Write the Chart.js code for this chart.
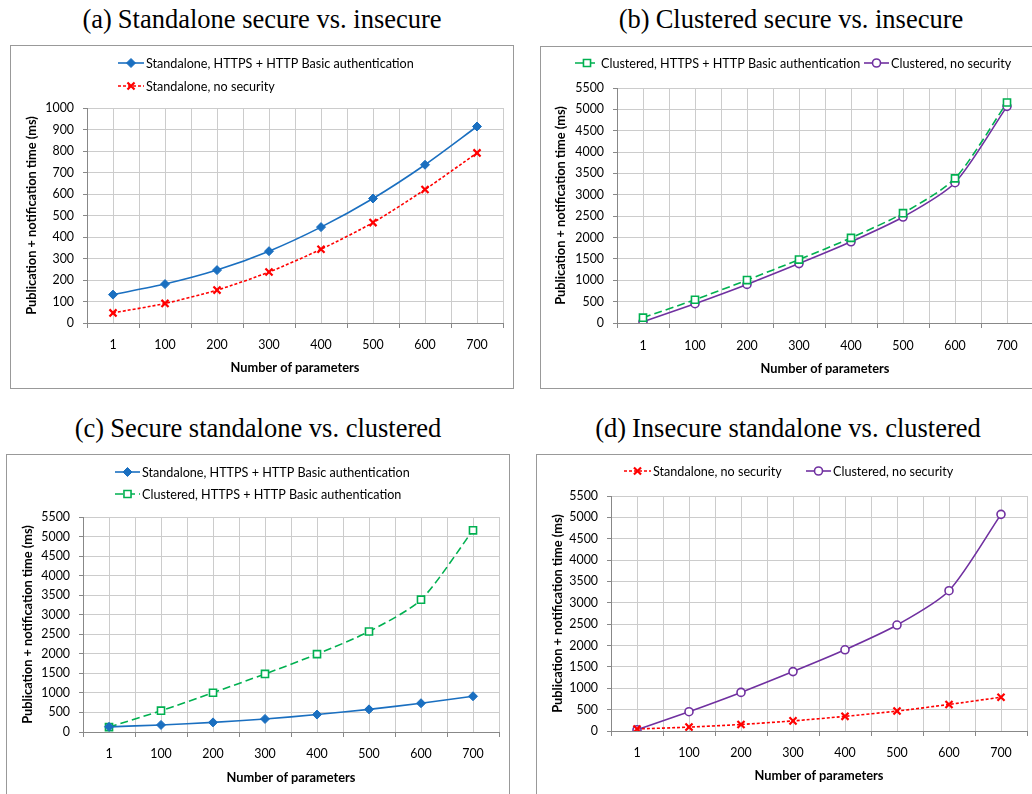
<!DOCTYPE html>
<html>
<head>
<meta charset="utf-8">
<script src="https://cdn.jsdelivr.net/npm/chart.js@4.4.0/dist/chart.umd.min.js"></script>
<style>
    body { margin: 0; width: 1032px; height: 794px; overflow: hidden; background: #fff; position: relative; }
    .cap { position: absolute; width: 520px; text-align: center; font-family: "Liberation Serif", "Times New Roman", serif; font-size: 26.5px; line-height: 30px; color: #000; white-space: nowrap; }
    .cap span { margin-right: 6px; }
    .box { position: absolute; border: 1px solid #999; box-sizing: border-box; }
    canvas { position: absolute; }
</style>
</head>
<body>
<div class="cap" style="left:2px; top:4px;"><span>(a)</span>Standalone secure vs. insecure</div>
<div class="cap" style="left:531px; top:4px;"><span>(b)</span>Clustered secure vs. insecure</div>
<div class="cap" style="left:-2px; top:413px;"><span>(c)</span>Secure standalone vs. clustered</div>
<div class="cap" style="left:528px; top:413px;"><span>(d)</span>Insecure standalone vs. clustered</div>

<div class="box" style="left:10px; top:45px; width:504px; height:344px;"></div>
<canvas id="chartA" width="504" height="344" style="left:10px; top:45px;"></canvas>
<div class="box" style="left:540px; top:46px; width:510px; height:343px;"></div>
<canvas id="chartB" width="510" height="343" style="left:540px; top:46px;"></canvas>
<div class="box" style="left:6px; top:454px; width:504px; height:346px;"></div>
<canvas id="chartC" width="504" height="346" style="left:6px; top:454px;"></canvas>
<div class="box" style="left:536px; top:454px; width:514px; height:346px;"></div>
<canvas id="chartD" width="514" height="346" style="left:536px; top:454px;"></canvas>

<script>
// du lieu doc tu hinh
var categories = ['1', '100', '200', '300', '400', '500', '600', '700'];
var standaloneSecure = [132, 181, 246, 334, 446, 579, 736, 914];
var standaloneInsecure = [47, 91, 153, 237, 343, 467, 621, 791];
var clusteredSecure = [125, 545, 1005, 1485, 1992, 2570, 3385, 5160];
var clusteredInsecure = [28, 452, 903, 1390, 1900, 2480, 3283, 5070];

var labelStandaloneSecure = 'Standalone, HTTPS + HTTP Basic authentication';
var labelStandaloneInsecure = 'Standalone, no security';
var labelClusteredSecure = 'Clustered, HTTPS + HTTP Basic authentication';
var labelClusteredInsecure = 'Clustered, no security';

var FONT = 'Lato';
var AXIS = '#888888';
var GRID = '#cccccc';

var styles = {
    standaloneSecure: { borderColor: '#1a6fc0', pointStyle: 'rectRot', pointRadius: 4.5, pointBackgroundColor: '#1a6fc0', pointBorderColor: '#1a6fc0', pointBorderWidth: 1, borderDash: [] },
    standaloneInsecure: { borderColor: '#ff0000', pointStyle: 'crossRot', pointRadius: 5, pointBackgroundColor: '#ff0000', pointBorderColor: '#ff0000', pointBorderWidth: 2.2, borderDash: [3, 2] },
    clusteredSecure: { borderColor: '#00b050', pointStyle: 'rect', pointRadius: 5, pointBackgroundColor: '#ffffff', pointBorderColor: '#00b050', pointBorderWidth: 1.6, borderDash: [8, 4] },
    clusteredInsecure: { borderColor: '#7030a0', pointStyle: 'circle', pointRadius: 4, pointBackgroundColor: '#ffffff', pointBorderColor: '#7030a0', pointBorderWidth: 1.6, borderDash: [] }
};

function makeDataset(label, values, style) {
    var ds = {
        label: label,
        data: values.map((v, i) => ({ x: i, y: v })),
        borderWidth: 1.6,
        tension: 0.25,
        fill: false
    };
    return Object.assign(ds, style);
}

// chu giai: doan net + diem danh dau, dat theo vi tri cho truoc
var lineLegend = {
    id: 'lineLegend',
    afterDraw: function (chart, args, opts) {
        var ctx = chart.ctx;
        ctx.save();
        ctx.font = '12.6px ' + FONT;
        ctx.textBaseline = 'middle';
        opts.items.forEach(function (it, i) {
            var ds = chart.data.datasets[i];
            var len = it.len || 26;
            ctx.strokeStyle = ds.borderColor;
            ctx.lineWidth = ds.borderWidth;
            ctx.setLineDash(ds.borderDash || []);
            ctx.beginPath();
            ctx.moveTo(it.x, it.y);
            ctx.lineTo(it.x + len, it.y);
            ctx.stroke();
            ctx.setLineDash([]);
            ctx.fillStyle = ds.pointBackgroundColor;
            ctx.strokeStyle = ds.pointBorderColor;
            ctx.lineWidth = ds.pointBorderWidth;
            Chart.helpers.drawPoint(ctx, { pointStyle: ds.pointStyle, radius: ds.pointRadius, borderWidth: ds.pointBorderWidth, rotation: 0 }, it.x + len / 2, it.y);
            ctx.fillStyle = '#000';
            ctx.fillText(ds.label, it.x + len + 2, it.y + 1);
        });
        ctx.restore();
    }
};

function drawChart(id, datasets, yMax, yStep, box, legendItems) {
    var ctx = document.getElementById(id).getContext('2d');
    return new Chart(ctx, {
        type: 'line',
        data: { datasets: datasets },
        plugins: [lineLegend],
        options: {
            responsive: false,
            animation: false,
            layout: { padding: { top: box.top, right: box.right, left: 0, bottom: 0 } },
            plugins: {
                legend: { display: false },
                tooltip: { enabled: false },
                lineLegend: { items: legendItems }
            },
            scales: {
                x: {
                    type: 'linear',
                    min: -0.5,
                    max: 7.5,
                    afterFit: function (s) { s.height = box.xh; },
                    border: { color: AXIS, width: 1 },
                    grid: {
                        color: GRID,
                        borderDash: [3, 2],
                        tickLength: 5,
                        tickBorderDash: [],
                        tickColor: c => (c.tick && Number.isInteger(c.tick.value)) ? 'rgba(0,0,0,0)' : AXIS
                    },
                    ticks: {
                        stepSize: 0.5,
                        autoSkip: false,
                        maxRotation: 0,
                        minRotation: 0,
                        padding: box.xpad,
                        color: '#000',
                        font: { family: FONT, size: 12.4 },
                        callback: v => Number.isInteger(v) ? categories[v] : ''
                    },
                    title: {
                        display: true,
                        text: 'Number of parameters',
                        color: '#000',
                        font: { family: FONT, size: 12.8, weight: 'bold' },
                        padding: { top: 0, bottom: box.xtb }
                    }
                },
                y: {
                    min: 0,
                    max: yMax,
                    afterFit: function (s) { s.width = box.yw; },
                    border: { color: AXIS, width: 1 },
                    grid: {
                        color: GRID,
                        borderDash: [3, 2],
                        tickLength: 4,
                        tickBorderDash: [],
                        tickColor: AXIS
                    },
                    ticks: {
                        stepSize: yStep,
                        padding: 9,
                        color: '#000',
                        font: { family: FONT, size: 12.4 },
                        callback: v => String(v)
                    },
                    title: {
                        display: true,
                        text: 'Publication + notification time (ms)',
                        color: '#000',
                        font: { family: FONT, size: 12.8, weight: 'bold' },
                        padding: { top: box.ytp, bottom: 0 }
                    }
                }
            }
        }
    });
}

drawChart('chartA', [
    makeDataset(labelStandaloneSecure, standaloneSecure, styles.standaloneSecure),
    makeDataset(labelStandaloneInsecure, standaloneInsecure, styles.standaloneInsecure)
], 1000, 100, { top: 63, right: 11, yw: 77, xh: 66, xpad: 10, xtb: 13, ytp: 14 },
    [{ x: 108, y: 18 }, { x: 108, y: 41 }]);

drawChart('chartB', [
    makeDataset(labelClusteredSecure, clusteredSecure, styles.clusteredSecure),
    makeDataset(labelClusteredInsecure, clusteredInsecure, styles.clusteredInsecure)
], 5500, 500, { top: 42, right: 17, yw: 77, xh: 66, xpad: 11, xtb: 12, ytp: 13 },
    [{ x: 35, y: 17, len: 24 }, { x: 324, y: 17, len: 25 }]);

drawChart('chartC', [
    makeDataset(labelStandaloneSecure, standaloneSecure, styles.standaloneSecure),
    makeDataset(labelClusteredSecure, clusteredSecure, styles.clusteredSecure)
], 5500, 500, { top: 63, right: 11, yw: 77, xh: 68, xpad: 10, xtb: 14, ytp: 14 },
    [{ x: 109, y: 18, len: 25 }, { x: 109, y: 40, len: 25 }]);

drawChart('chartD', [
    makeDataset(labelStandaloneInsecure, standaloneInsecure, styles.standaloneInsecure),
    makeDataset(labelClusteredInsecure, clusteredInsecure, styles.clusteredInsecure)
], 5500, 500, { top: 42, right: 23, yw: 75, xh: 69, xpad: 10, xtb: 16, ytp: 14 },
    [{ x: 88, y: 17, len: 27 }, { x: 270, y: 17, len: 25 }]);
</script>
</body>
</html>
